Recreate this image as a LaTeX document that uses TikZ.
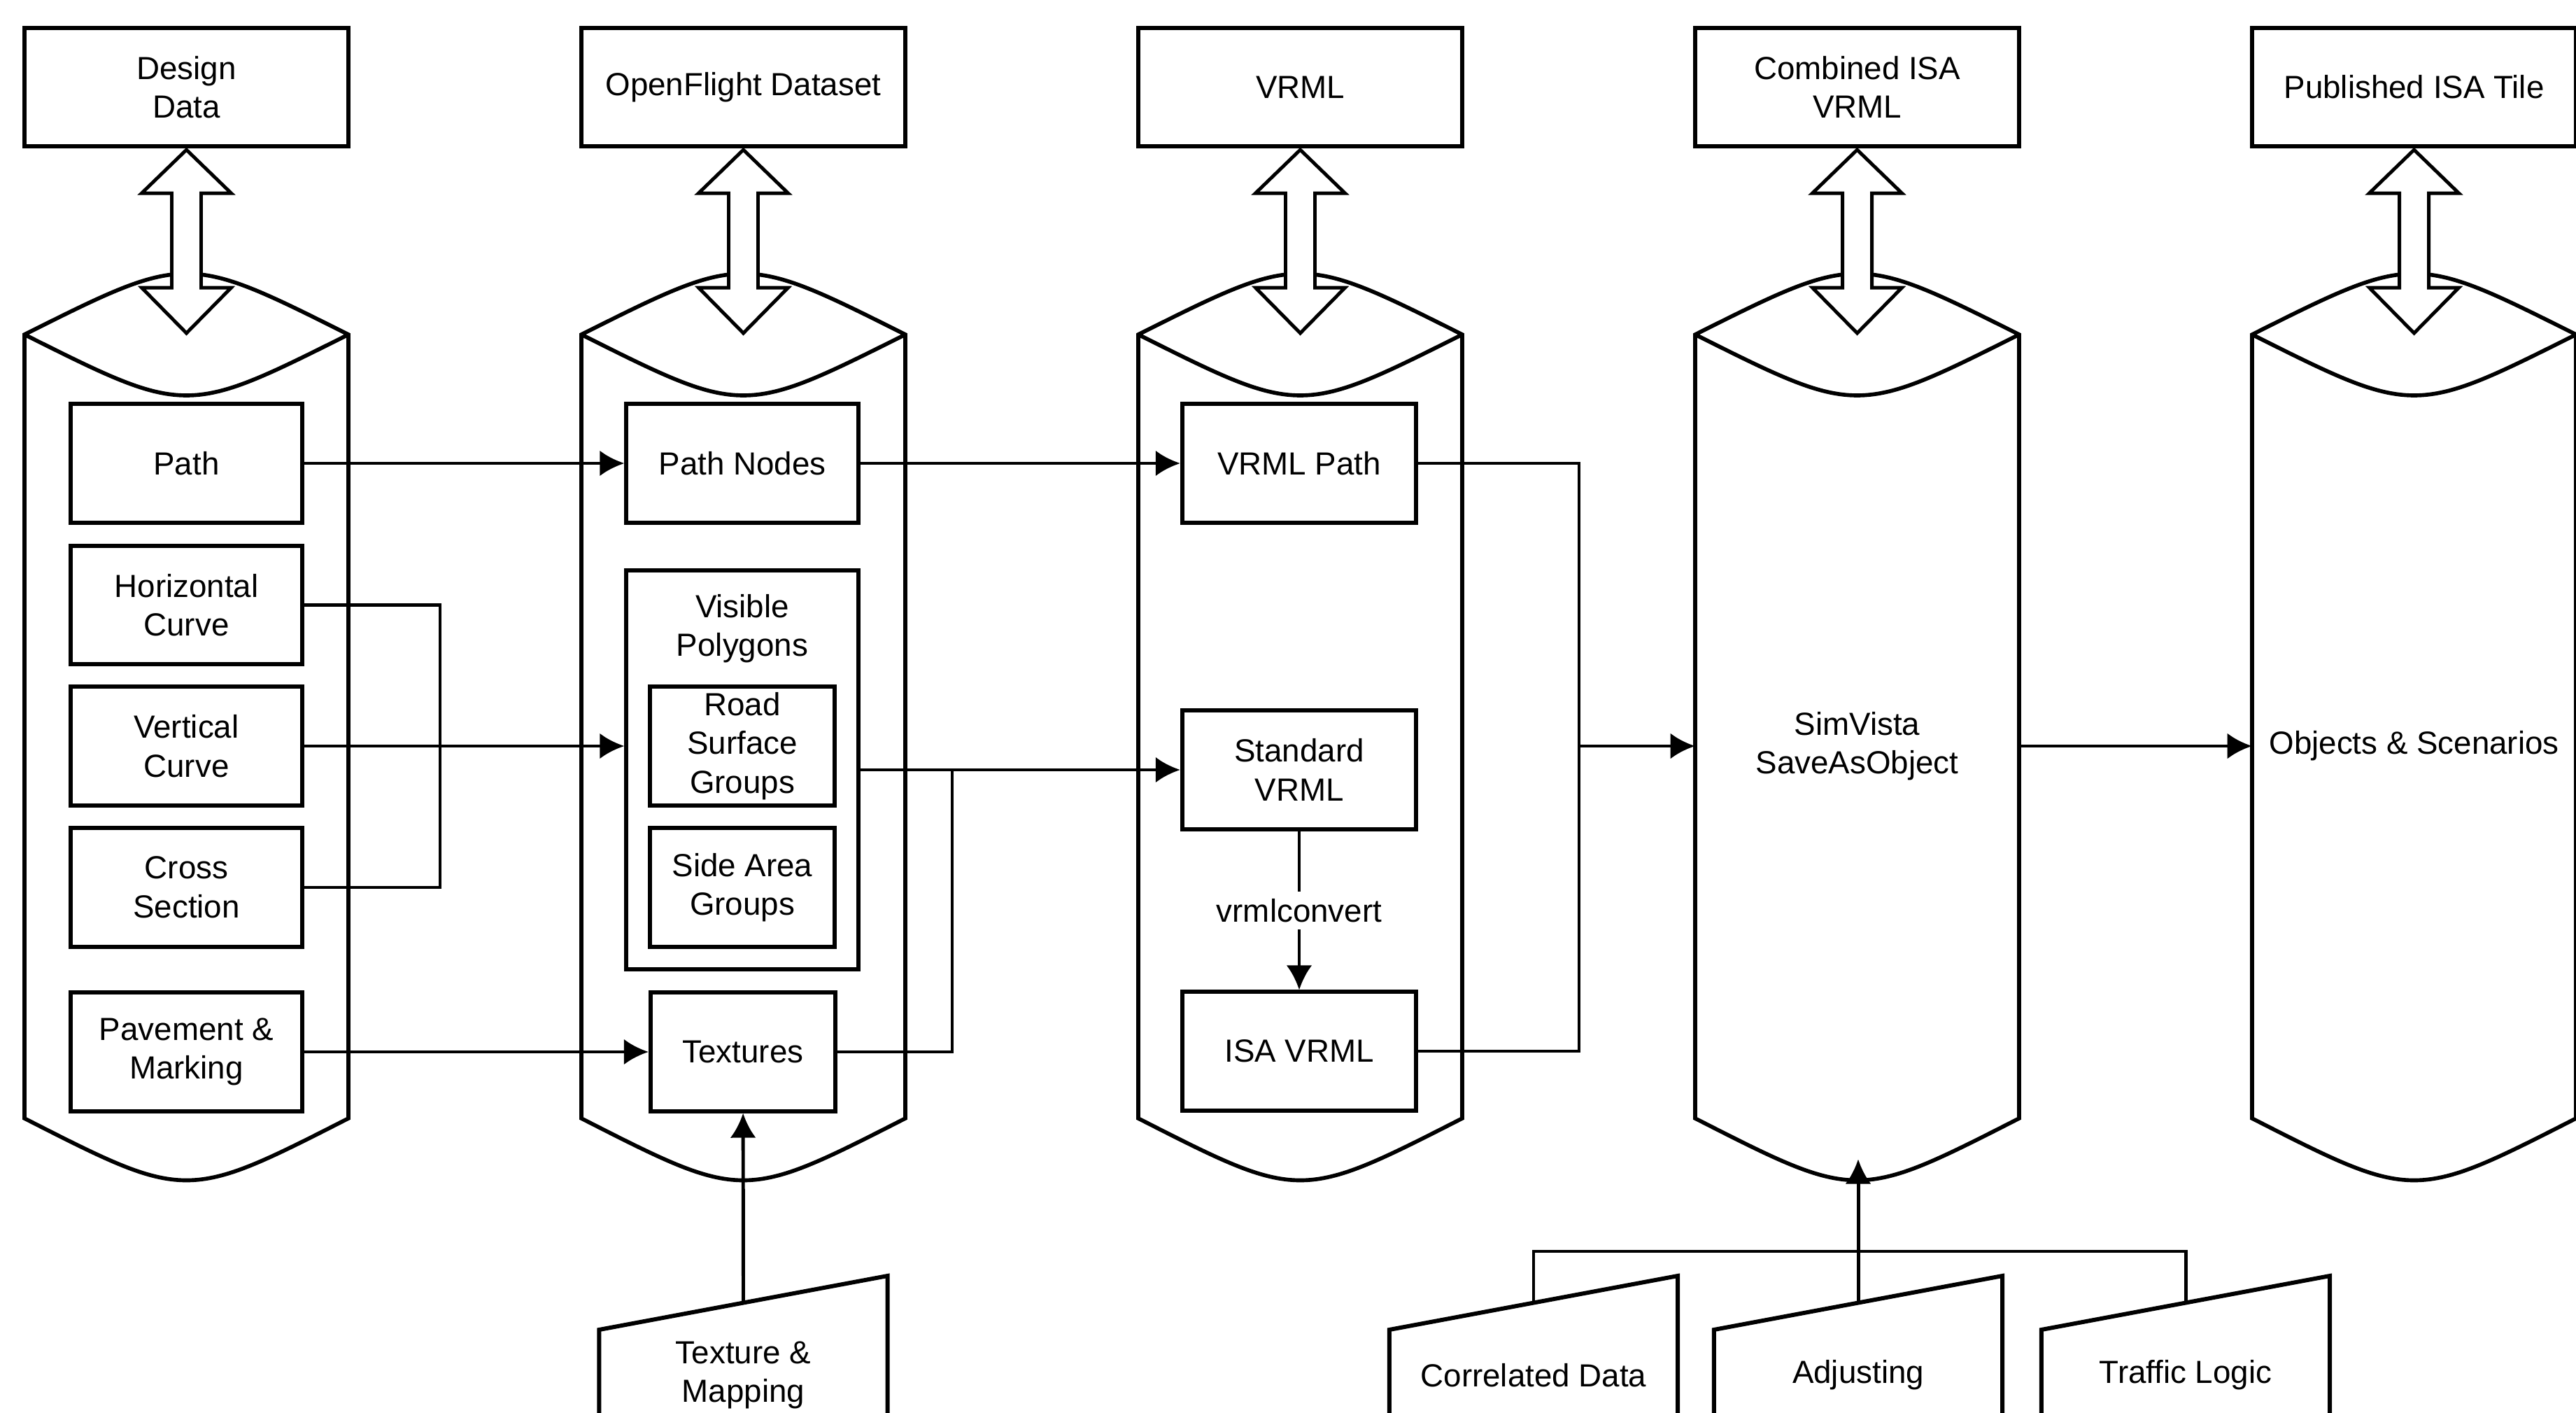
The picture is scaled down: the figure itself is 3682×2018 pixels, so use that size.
\documentclass[tikz,border=0pt]{standalone}
\usepackage{fontspec}
\setmainfont{Liberation Sans}
\usetikzlibrary{arrows.meta,calc}

\begin{document}
\begin{tikzpicture}[x=0.01cm,y=-0.01cm,
		every node/.style={font=\fontsize{13}{15.8}\selectfont, align=center},
		itembox/.style={draw, line width=1.7pt, minimum width=3.31cm, minimum height=1.69cm, inner sep=2pt},
		smallbox/.style={itembox, minimum width=2.64cm},
		topbox/.style={itembox, minimum width=4.63cm},
		drum/.style={line width=1.6pt},
		dbl/.style={draw, fill=white, line width=1.4pt},
		doc/.style={minimum width=4.12cm, minimum height=2cm, outer sep=0pt},
		docline/.style={line width=1.7pt},
		link/.style={line width=1.4pt},
		flow/.style={link, -{Latex[length=10pt,width=10.5pt]}}]
	\useasboundingbox (0,0) rectangle (3682,2018);

	\foreach \i in {0,...,4}{
		\pgfmathsetmacro{\L}{35+796*\i}
		\pgfmathsetmacro{\R}{\L+463}
		\pgfmathsetmacro{\C}{\L+231.5}
		\draw[drum] (\L,478) .. controls (\C,362) .. (\R,478) -- (\R,1598) .. controls (\C,1716) .. (\L,1598) -- cycle;
		\draw[drum] (\L,478) .. controls (\C,594) .. (\R,478);
	}

	\node[topbox] (design) at (266.5,124.5) {Design\\Data};
	\node[topbox] (openflight) at (1062.5,124.5) {OpenFlight Dataset};
	\node[topbox] (vrml) at (1858.5,124.5) {VRML};
	\node[topbox] (combined) at (2654.5,124.5) {Combined ISA\\VRML};
	\node[topbox] (published) at (3450.5,124.5) {Published ISA Tile};

	\foreach \n in {design,openflight,vrml,combined,published}
		\draw[dbl] ($(\n.south)+(0,2)$) -- ++(64,62) -- ++(-43,0) -- ++(0,135) -- ++(43,0) -- ++(-64,65) -- ++(-64,-65) -- ++(43,0) -- ++(0,-135) -- ++(-43,0) -- cycle;

	\node[itembox] (path) at (266.5,662) {Path};
	\node[itembox] (hcurve) at (266.5,864.5) {Horizontal\\Curve};
	\node[itembox] (vcurve) at (266.5,1066) {Vertical\\Curve};
	\node[itembox] (xsection) at (266.5,1268) {Cross\\Section};
	\node[itembox] (pavement) at (266.5,1503) {Pavement \&\\Marking};

	\node[itembox] (pathnodes) at (1061,662) {Path Nodes};
	\node[itembox, minimum height=5.7cm] (vispoly) at (1061,1100) {};
	\node (vistitle) at (1061,898) {Visible\\Polygons};
	\node[smallbox] (road) at (1061,1066) {Road\\Surface\\Groups};
	\node[smallbox] (side) at (1061,1268) {Side Area\\Groups};
	\node[smallbox] (textures) at (1062,1503) {Textures};

	\node[itembox, minimum width=3.34cm] (vrmlpath) at (1857,662) {VRML Path};
	\node[itembox, minimum width=3.34cm] (stdvrml) at (1857,1100) {Standard\\VRML};
	\node[itembox, minimum width=3.34cm] (isavrml) at (1857,1502) {ISA VRML};

	\node[minimum width=4.63cm, minimum height=11.8cm, outer sep=0pt] (simvista) at (2654.5,1066) {SimVista\\SaveAsObject};
	\node[minimum width=4.63cm, minimum height=11.8cm, outer sep=0pt] (objects) at (3450.5,1066) {Objects \& Scenarios};

	\node[doc] (texmap) at (1062.5,1965) {Texture \&\\Mapping};
	\node[doc] (correl) at (2192,1965) {Correlated Data};
	\node[doc] (adjust) at (2656,1965) {Adjusting};
	\node[doc] (traffic) at (3124,1965) {Traffic Logic};
	\foreach \n in {texmap,correl,adjust,traffic}{
		\draw[docline] (\n.south west) -- ($(\n.west)+(0,-65)$) -- ($(\n.east)+(0,-142)$) -- (\n.south east);
		\coordinate (\n-top) at ($(\n.west)!0.5!(\n.east)+(0,-103.5)$);
	}

	\coordinate (join1) at (629,1066);
	\coordinate (join2) at (1361,1100);
	\coordinate (join3) at (2257,1066);
	\coordinate (bracket) at (2656,1788);

	\draw[flow] (path) -- (pathnodes);
	\draw[link] (hcurve.east) -| (join1) |- (xsection.east);
	\draw[flow] (vcurve) -- (vcurve -| vispoly.west);
	\draw[flow] (pavement) -- (textures);
	\draw[flow] (pathnodes) -- (vrmlpath);
	\draw[flow] (vispoly) -- (stdvrml);
	\draw[link] (textures.east) -| (join2);
	\draw[flow] (stdvrml) -- node[fill=white, inner sep=3pt] (convlabel) {vrmlconvert} (isavrml);
	\draw[link] (vrmlpath.east) -| (join3) |- (isavrml.east);
	\draw[flow] (join3) -- (simvista);
	\draw[flow] (simvista) -- (objects);
	\draw[flow] (texmap-top) -- (textures);
	\draw[flow] (adjust-top) -- (adjust-top |- simvista.south);
	\draw[link] (correl-top) |- (bracket) -| (traffic-top);
\end{tikzpicture}
\end{document}
